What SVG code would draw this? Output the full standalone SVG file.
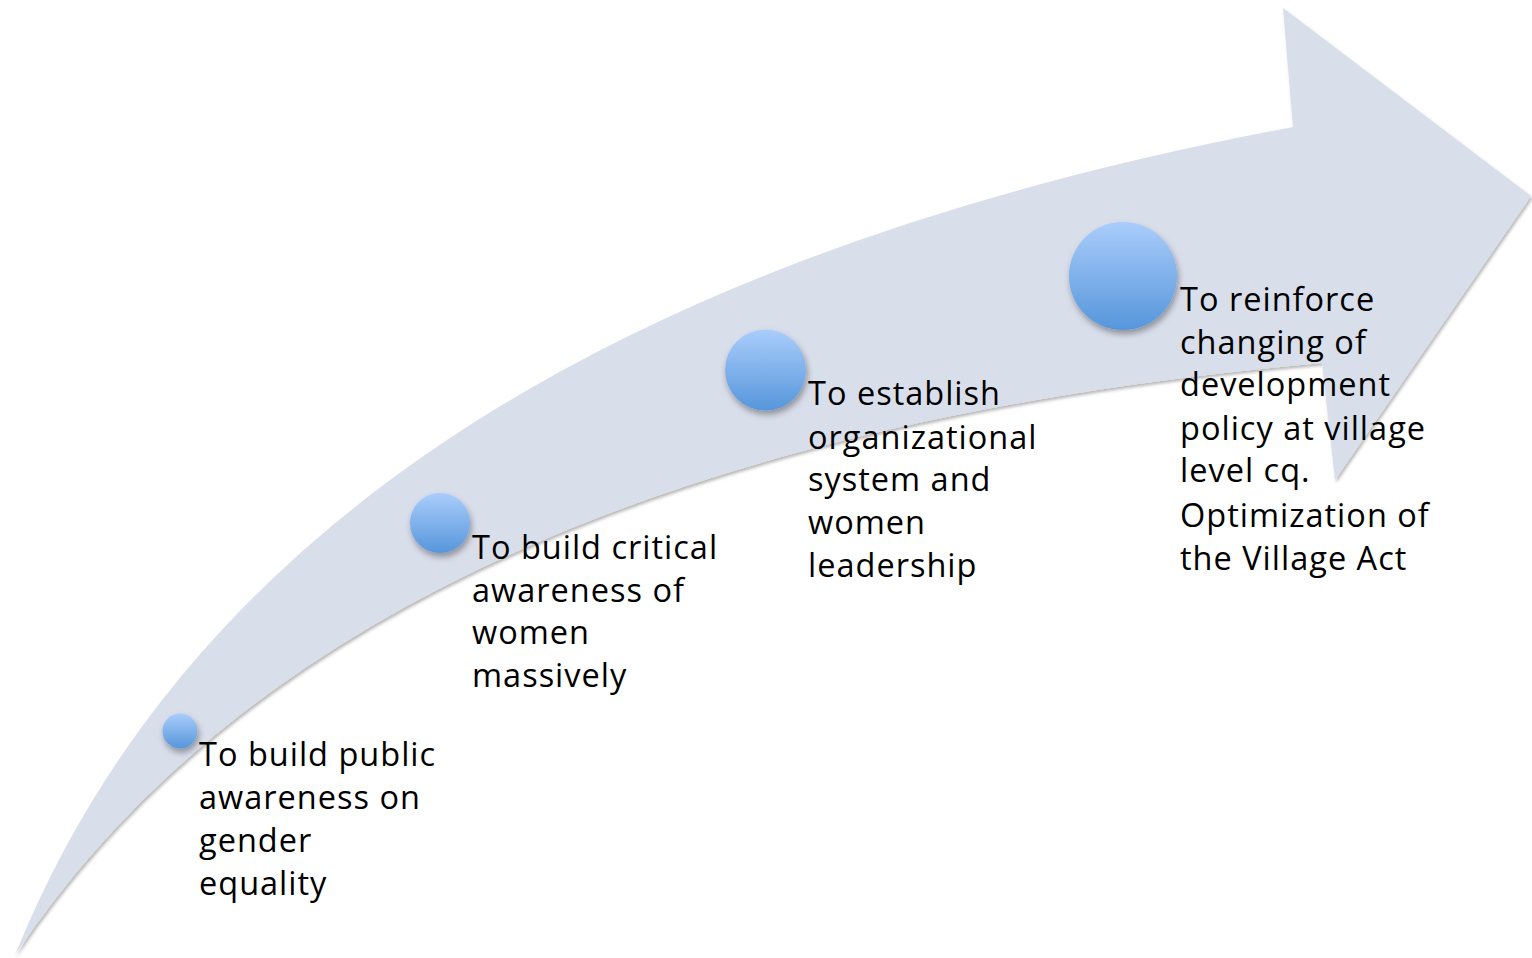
<svg xmlns="http://www.w3.org/2000/svg" width="1532" height="958" viewBox="0 0 1532 958">
  <defs>
    <linearGradient id="ballFill" x1="0" y1="0" x2="0" y2="1">
      <stop offset="0" stop-color="#aacdfb"/>
      <stop offset="1" stop-color="#5696db"/>
    </linearGradient>
    <filter id="arrowShadow" x="-5%" y="-5%" width="110%" height="110%">
      <feDropShadow dx="1.5" dy="2.5" stdDeviation="1.6" flood-color="#000" flood-opacity="0.28"/>
    </filter>
    <filter id="ballShadow" x="-30%" y="-30%" width="160%" height="160%">
      <feDropShadow dx="1.5" dy="4" stdDeviation="3" flood-color="#000" flood-opacity="0.35"/>
    </filter>
    <style>
      .ball { fill: url(#ballFill); filter: url(#ballShadow); }
      .label { font-family: "Open Sans", "Liberation Sans", sans-serif; font-size: 32.5px; letter-spacing: 1px; fill: #000; }
    </style>
  </defs>

  <rect width="1532" height="958" fill="#fff"/>

  <!-- curved upward arrow -->
  <g id="arrow">
    <path d="M15,955 Q272,318 1293,127 L1283,8 L1531,196 L1335,480 L1322,363 Q351,450 15,955 Z"
          fill="#d9deeb" filter="url(#arrowShadow)"/>
  </g>

  <g id="step1">
    <circle class="ball" cx="180" cy="731" r="17.5"/>
    <text class="label">
      <tspan x="199" y="766">To build public</tspan>
      <tspan x="199" y="809">awareness on</tspan>
      <tspan x="199" y="852">gender</tspan>
      <tspan x="199" y="895">equality</tspan>
    </text>
  </g>

  <g id="step2">
    <circle class="ball" cx="440" cy="523" r="30"/>
    <text class="label">
      <tspan x="472" y="559">To build critical</tspan>
      <tspan x="472" y="602">awareness of</tspan>
      <tspan x="472" y="644">women</tspan>
      <tspan x="472" y="687">massively</tspan>
    </text>
  </g>

  <g id="step3">
    <circle class="ball" cx="765.5" cy="370" r="40.5"/>
    <text class="label">
      <tspan x="808" y="405">To establish</tspan>
      <tspan x="808" y="449">organizational</tspan>
      <tspan x="808" y="491">system and</tspan>
      <tspan x="808" y="534">women</tspan>
      <tspan x="808" y="577">leadership</tspan>
    </text>
  </g>

  <g id="step4">
    <circle class="ball" cx="1123" cy="276" r="54"/>
    <text class="label">
      <tspan x="1180" y="311">To reinforce</tspan>
      <tspan x="1180" y="354">changing of</tspan>
      <tspan x="1180" y="396">development</tspan>
      <tspan x="1180" y="440">policy at village</tspan>
      <tspan x="1180" y="482">level cq.</tspan>
      <tspan x="1180" y="527">Optimization of</tspan>
      <tspan x="1180" y="570">the Village Act</tspan>
    </text>
  </g>
</svg>
